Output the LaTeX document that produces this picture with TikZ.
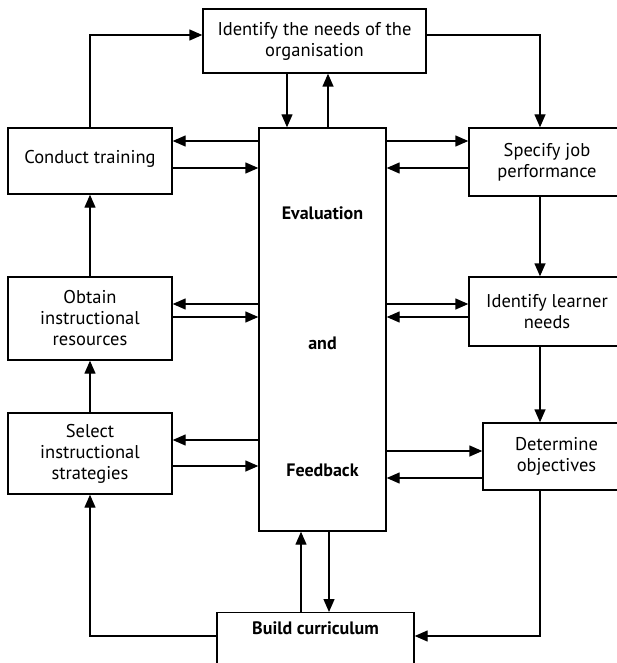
\documentclass[tikz,border=0pt]{standalone}
\usepackage{fontspec}
\setmainfont{PT Sans}
\usetikzlibrary{arrows.meta,positioning}
\begin{document}
\begin{tikzpicture}[x=1pt,y=-1pt,
  box/.style={draw,line width=1.4pt,rectangle,inner sep=0pt,align=center,
              font=\fontsize{18.5}{21}\selectfont},
  txt/.style={inner sep=0pt,align=center,font=\fontsize{18}{21}\selectfont\bfseries},
  arr/.style={line width=1.4pt,-{Triangle[length=13pt,width=11pt]}}]
\useasboundingbox[fill=white] (0,0) rectangle (617,663);

% boxes
\node[box,minimum width=223pt,minimum height=64pt] (org) at (314.5,41)
  {Identify the needs of the\\organisation};
\node[box,minimum width=164pt,minimum height=66pt,text depth=8pt] (conduct) at (90,161)
  {Conduct training};
\node[box,minimum width=127pt,minimum height=403pt] (eval) at (322.5,329.5) {};
\node[txt] (evA) at (322.5,213) {Evaluation};
\node[txt] (evB) at (322.5,343) {and};
\node[txt] (evC) at (322.5,470) {Feedback};
\node[box,minimum width=156pt,minimum height=68pt] (spec) at (547,162)
  {Specify job\\performance};
\node[box,minimum width=164pt,minimum height=83pt] (obtain) at (90,318.5)
  {Obtain\\instructional\\resources};
\node[box,minimum width=156pt,minimum height=69pt] (learn) at (547,311.5)
  {Identify learner\\needs};
\node[box,minimum width=164pt,minimum height=81pt] (select) at (90,453.5)
  {Select\\instructional\\strategies};
\node[box,minimum width=147pt,minimum height=67pt] (det) at (556.5,456.5)
  {Determine\\objectives};
\node[box,minimum width=197pt,minimum height=70pt,anchor=north] (build) at (315.5,612) {};
\node[txt,below=9pt of build.north] (buildtxt) {Build curriculum};

% guide positions for the connector columns
\coordinate (rc) at (540,0);
\coordinate (oa) at (287,0);
\coordinate (ob) at (328,0);
\coordinate (ba) at (301,0);
\coordinate (bb) at (329,0);
\coordinate (r1) at (0,141);
\coordinate (r2) at (0,168);
\coordinate (r3) at (0,304);
\coordinate (r4) at (0,317);
\coordinate (r5) at (0,440);
\coordinate (r6) at (0,466);
\coordinate (r7) at (0,451);
\coordinate (r8) at (0,478);
\coordinate (bot) at (0,636);
\coordinate (topr) at (0,35);

% outer cycle
\draw[arr] (conduct.north) |- (org.west |- topr);
\draw[arr] (org.east |- topr) -| (spec.north -| rc);
\draw[arr] (spec.south -| rc) -- (learn.north -| rc);
\draw[arr] (learn.south -| rc) -- (det.north -| rc);
\draw[arr] (det.south -| rc) |- (build.east |- bot);
\draw[arr] (build.west |- bot) -| (select.south);
\draw[arr] (select.north) -- (obtain.south);
\draw[arr] (obtain.north) -- (conduct.south);

% links with evaluation and feedback
\draw[arr] (org.south -| oa) -- (eval.north -| oa);
\draw[arr] (eval.north -| ob) -- (org.south -| ob);
\draw[arr] (build.north -| ba) -- (eval.south -| ba);
\draw[arr] (eval.south -| bb) -- (build.north -| bb);

\draw[arr] (eval.west |- r1) -- (conduct.east |- r1);
\draw[arr] (conduct.east |- r2) -- (eval.west |- r2);
\draw[arr] (eval.east |- r1) -- (spec.west |- r1);
\draw[arr] (spec.west |- r2) -- (eval.east |- r2);

\draw[arr] (eval.west |- r3) -- (obtain.east |- r3);
\draw[arr] (obtain.east |- r4) -- (eval.west |- r4);
\draw[arr] (eval.east |- r3) -- (learn.west |- r3);
\draw[arr] (learn.west |- r4) -- (eval.east |- r4);

\draw[arr] (eval.west |- r5) -- (select.east |- r5);
\draw[arr] (select.east |- r6) -- (eval.west |- r6);
\draw[arr] (eval.east |- r7) -- (det.west |- r7);
\draw[arr] (det.west |- r8) -- (eval.east |- r8);
\end{tikzpicture}
\end{document}
